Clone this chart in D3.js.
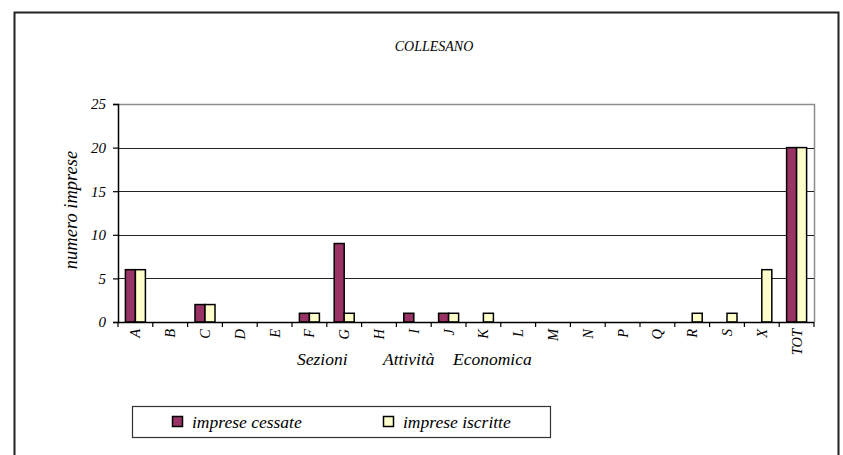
<!DOCTYPE html>
<html>
<head>
<meta charset="utf-8">
<script src="https://cdn.jsdelivr.net/npm/d3@7"></script>
<style>
  body { margin: 0; background: #fff; }
</style>
</head>
<body>
<div id="chart"></div>
<script>
// data
const categories = ["A", "B", "C", "D", "E", "F", "G", "H", "I", "J", "K", "L", "M", "N", "P", "Q", "R", "S", "X", "TOT"];
const cessate = [6, 0, 2, 0, 0, 1, 9, 0, 1, 1, 0, 0, 0, 0, 0, 0, 0, 0, 0, 20];
const iscritte = [6, 0, 2, 0, 0, 1, 1, 0, 0, 1, 1, 0, 0, 0, 0, 0, 1, 1, 6, 20];
const yTicks = [0, 5, 10, 15, 20, 25];
const seriesNames = ["imprese cessate", "imprese iscritte"];
const seriesColors = ["#993366", "#FFFFCC"];
const xTitleWords = ["Sezioni", "Attività", "Economica"];

const W = 843, H = 455;
const plot = { left: 118, right: 814, top: 104, bottom: 322 };
const FONT = "'Liberation Serif', 'Times New Roman', Times, serif";

const svg = d3.select("#chart").append("svg")
    .attr("width", W)
    .attr("height", H)
    .attr("font-family", FONT)
    .attr("font-style", "italic");

// outer frame (bottom edge falls outside the picture)
svg.append("path")
    .attr("d", `M14.5,${H + 5} V12.5 H838.5 V${H + 5}`)
    .attr("fill", "none")
    .attr("stroke", "#222")
    .attr("stroke-width", 2);

svg.append("text")
    .attr("x", 434)
    .attr("y", 51)
    .attr("text-anchor", "middle")
    .attr("font-size", 14)
    .text("COLLESANO");

// scales
const x = d3.scaleBand()
    .domain(categories)
    .range([plot.left, plot.right])
    .paddingInner(0.425)
    .paddingOuter(0.2125);

const x1 = d3.scaleBand()
    .domain([0, 1])
    .range([0, x.bandwidth()]);

const y = d3.scaleLinear()
    .domain([0, 25])
    .range([plot.bottom, plot.top]);

// plot area border (top + right) in grey
svg.append("path")
    .attr("d", `M${plot.left},${plot.top + 0.5} H${plot.right + 0.5} V${plot.bottom}`)
    .attr("fill", "none")
    .attr("stroke", "#8c8c8c")
    .attr("stroke-width", 1.5);

// gridlines
svg.append("g")
    .selectAll("line")
    .data(yTicks.filter(t => t > 0 && t < 25))
    .join("line")
    .attr("x1", plot.left)
    .attr("x2", plot.right)
    .attr("y1", d => Math.round(y(d)) + 0.5)
    .attr("y2", d => Math.round(y(d)) + 0.5)
    .attr("stroke", "#222")
    .attr("stroke-width", 1.2);

// bars
const rows = categories.map((c, i) => ({ cat: c, vals: [cessate[i], iscritte[i]] }));

const groups = svg.append("g")
    .selectAll("g")
    .data(rows)
    .join("g")
    .attr("transform", d => `translate(${x(d.cat)},0)`);

groups.selectAll("rect")
    .data(d => d.vals.map((v, k) => ({ v, k })).filter(e => e.v > 0))
    .join("rect")
    .attr("x", e => x1(e.k))
    .attr("y", e => y(e.v))
    .attr("width", x1.bandwidth())
    .attr("height", e => y(0) - y(e.v))
    .attr("fill", e => seriesColors[e.k])
    .attr("stroke", "#000")
    .attr("stroke-width", 1.5);

// y axis
const yAxis = svg.append("g")
    .attr("transform", `translate(${plot.left},0)`)
    .call(d3.axisLeft(y).tickValues(yTicks).tickSize(5).tickPadding(7));
yAxis.attr("font-family", FONT).attr("font-size", 15);
yAxis.select(".domain").attr("stroke", "#000").attr("stroke-width", 1.5);
yAxis.selectAll(".tick line").attr("stroke", "#000").attr("stroke-width", 1.2);

// x axis: ticks at category boundaries
const xAxisG = svg.append("g");
xAxisG.append("line")
    .attr("x1", plot.left)
    .attr("x2", plot.right)
    .attr("y1", plot.bottom + 0.5)
    .attr("y2", plot.bottom + 0.5)
    .attr("stroke", "#000")
    .attr("stroke-width", 1.5);

const step = x.step();
xAxisG.selectAll("line.tk")
    .data(d3.range(categories.length + 1))
    .join("line")
    .attr("class", "tk")
    .attr("x1", i => plot.left + i * step)
    .attr("x2", i => plot.left + i * step)
    .attr("y1", plot.bottom)
    .attr("y2", plot.bottom + 5)
    .attr("stroke", "#000")
    .attr("stroke-width", 1.2);

xAxisG.selectAll("text")
    .data(categories)
    .join("text")
    .attr("transform", d => `translate(${x(d) + x.bandwidth() / 2 + 5},${plot.bottom + 7}) rotate(-90)`)
    .attr("text-anchor", "end")
    .attr("font-size", 14.5)
    .text(d => d);

// axis titles (words spread out as in the original)
const xTitleX = [297, 383, 453];
svg.append("g")
    .selectAll("text")
    .data(xTitleWords)
    .join("text")
    .attr("x", (d, i) => xTitleX[i])
    .attr("y", 365)
    .attr("font-size", 17.5)
    .text(d => d);

svg.append("text")
    .attr("transform", `translate(77,210) rotate(-90)`)
    .attr("text-anchor", "middle")
    .attr("font-size", 18.5)
    .text("numero imprese");

// legend
const legend = svg.append("g");
legend.append("rect")
    .attr("x", 132.5)
    .attr("y", 406.5)
    .attr("width", 418)
    .attr("height", 31)
    .attr("fill", "#fff")
    .attr("stroke", "#333")
    .attr("stroke-width", 1.2);

const legendX = [172, 383];
seriesNames.forEach((name, k) => {
    legend.append("rect")
        .attr("x", legendX[k] + 0.5)
        .attr("y", 416.5)
        .attr("width", 10)
        .attr("height", 10)
        .attr("fill", seriesColors[k])
        .attr("stroke", "#000")
        .attr("stroke-width", 1.5);
    legend.append("text")
        .attr("x", legendX[k] + 20)
        .attr("y", 428)
        .attr("font-size", 17.5)
        .text(name);
});
</script>
</body>
</html>
